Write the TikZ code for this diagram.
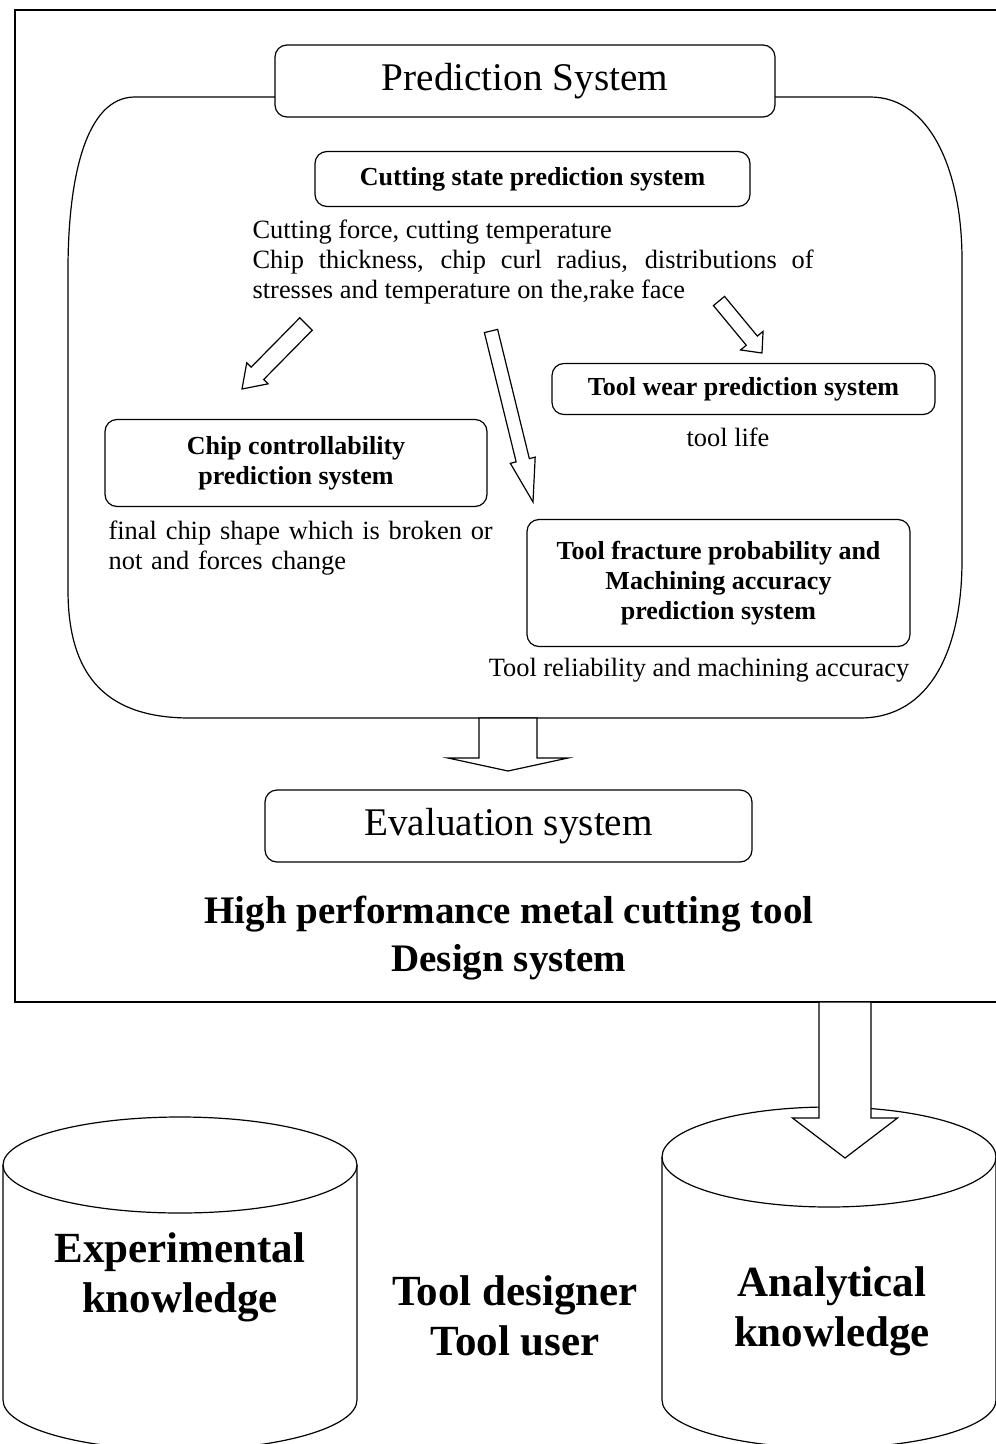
\documentclass[tikz,border=0pt]{standalone}
\usepackage{fontspec}
\setmainfont{Liberation Serif}
\usetikzlibrary{calc}

\tikzset{
  sysbox/.style={draw, rounded corners=6pt, inner sep=0pt, align=center},
  bigtitle/.style={font=\fontsize{19.6}{23}\selectfont},
  boxtext/.style={font=\fontsize{13}{15}\selectfont\bfseries},
  note/.style={font=\fontsize{13.2}{15}\selectfont, inner sep=0pt},
  heavy/.style={font=\fontsize{21.5}{25}\selectfont\bfseries, align=center, inner sep=0pt},
  blockarrow/.style={draw, fill=white, line join=miter},
}

% hollow block arrow: tail, tip, shaft half width, head half width, head length
\newcommand{\hollowarrow}[5]{%
  \coordinate (hb) at ($(#2)!#5!(#1)$);
  \draw[blockarrow] ($(#1)!#3!90:(#2)$) -- ($(hb)!#3!-90:(#1)$) -- ($(hb)!#4!-90:(#1)$)
    -- (#2) -- ($(hb)!#4!90:(#1)$) -- ($(hb)!#3!90:(#1)$) -- ($(#1)!#3!-90:(#2)$) -- cycle;
}

\begin{document}
\begin{tikzpicture}[x=0.5pt, y=-0.5pt, line width=0.6pt]
  \useasboundingbox (0,0) rectangle (995,1444);

  % design system frame
  \draw (1000,10) -- (15,10) -- (15,1002) -- (1000,1002);

  % prediction system
  \node[sysbox, bigtitle, minimum width=250pt, minimum height=36pt] (predsys) at (525,81) {Prediction System};
  \draw (275,97) -- (135,97) .. controls (85,97) and (68,180) .. (68,270) -- (68,590)
    .. controls (68,680) and (110,718) .. (190,718) -- (860,718)
    .. controls (930,718) and (962,650) .. (962,560) -- (962,260)
    .. controls (962,170) and (930,97) .. (870,97) -- (775,97);

  \node[sysbox, boxtext, minimum width=217.5pt, minimum height=27.5pt] (cutstate) at (532.5,179) {Cutting state prediction system};
  \node[note, text width=280.5pt, align=justify, anchor=base west] (cutout) at (252,239)
    {Cutting force, cutting temperature\\
     Chip thickness, chip curl radius, distributions of\linebreak stresses and temperature on the,rake face};

  \node[sysbox, boxtext, minimum width=191pt, minimum height=43.5pt] (chipbox) at (296,463) {Chip controllability\\prediction system};
  \node[note, text width=215pt, align=left, anchor=base west] (chipout) at (108,539)
    {final chip shape which is broken or\\not and forces change};

  \node[sysbox, boxtext, minimum width=191.5pt, minimum height=25.5pt] (wearbox) at (743.5,389) {Tool wear prediction system};
  \node[note, anchor=base] (wearout) at (728,446) {tool life};

  \node[sysbox, boxtext, minimum width=191.5pt, minimum height=63.5pt] (fracbox) at (718.5,583)
    {Tool fracture probability and\\Machining accuracy\\prediction system};
  \node[note, anchor=base] (fracout) at (699,676) {Tool reliability and machining accuracy};

  % arrows out of the cutting state results
  \coordinate (chipfrom) at (306,324);
  \coordinate (chipto) at (242,389);
  \coordinate (fracfrom) at (491,331);
  \coordinate (fracto) at (533,502);
  \coordinate (wearfrom) at (719,301);
  \coordinate (wearto) at (762,353);
  \hollowarrow{chipfrom}{chipto}{4.4pt}{7.5pt}{11pt}
  \hollowarrow{fracfrom}{fracto}{3.4pt}{6.4pt}{21.5pt}
  \hollowarrow{wearfrom}{wearto}{3.6pt}{7.3pt}{8pt}

  % evaluation
  \node[sysbox, bigtitle, minimum width=243.5pt, minimum height=36pt] (evalsys) at (508.5,826) {Evaluation system};
  \coordinate (predout) at (508,718);
  \coordinate (evalin) at (508,771);
  \hollowarrow{predout}{evalin}{14.5pt}{30pt}{6.5pt}

  \node[heavy, font=\fontsize{19.5}{24}\selectfont\bfseries] (designsys) at (509,938)
    {High performance metal cutting tool\\Design system};

  % knowledge bases
  \draw (180,1165) ellipse [x radius=88.5pt, y radius=24pt];
  \draw (3,1165) -- (3,1400) arc [start angle=180, end angle=360, x radius=88.5pt, y radius=25pt] -- (357,1165);
  \node[heavy] (expknow) at (180,1277) {Experimental\\knowledge};

  \draw (829,1157) ellipse [x radius=83.5pt, y radius=25pt];
  \draw (662,1157) -- (662,1400) arc [start angle=180, end angle=360, x radius=83.5pt, y radius=24pt] -- (996,1157);
  \node[heavy] (anaknow) at (832,1311) {Analytical\\knowledge};

  \node[heavy] (users) at (515,1316) {Tool designer\\Tool user};

  \coordinate (framebot) at (845,1002);
  \coordinate (anain) at (845,1158);
  \hollowarrow{framebot}{anain}{13pt}{26.25pt}{20pt}
\end{tikzpicture}
\end{document}
